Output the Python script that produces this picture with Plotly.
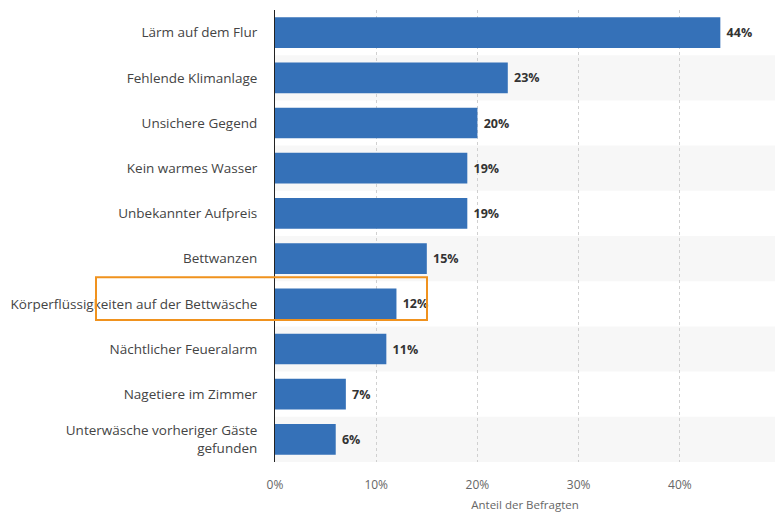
import plotly.graph_objects as go

categories = [
    "Lärm auf dem Flur",
    "Fehlende Klimanlage",
    "Unsichere Gegend",
    "Kein warmes Wasser",
    "Unbekannter Aufpreis",
    "Bettwanzen",
    "Körperflüssigkeiten auf der Bettwäsche",
    "Nächtlicher Feueralarm",
    "Nagetiere im Zimmer",
    "Unterwäsche vorheriger Gäste<br>gefunden",
]
values = [44, 23, 20, 19, 19, 15, 12, 11, 7, 6]
x_ticks = [0, 10, 20, 30, 40]
x_tick_labels = ["0%", "10%", "20%", "30%", "40%"]

FONT = "Open Sans"

fig = go.Figure(
    go.Bar(
        x=values,
        y=categories,
        orientation="h",
        marker=dict(color="#3571b8", line=dict(width=0)),
        width=0.68,
        text=[f"<b>\u00a0{v}%</b>" for v in values],
        textposition="outside",
        textfont=dict(family=FONT, size=12.5, color="#333333"),
        cliponaxis=False,
    )
)

shapes = []
for i in range(len(categories)):
    if i % 2 == 1:
        shapes.append(dict(
            type="rect", xref="paper", yref="y",
            x0=0, x1=1, y0=i - 0.5, y1=i + 0.5,
            fillcolor="#f7f7f7", line=dict(width=0), layer="below",
        ))
shapes.append(dict(
    type="rect", xref="paper", yref="paper",
    x0=-0.358, x1=0.304, y0=0.314, y1=0.409,
    line=dict(color="#f0921e", width=2), fillcolor="rgba(0,0,0,0)", layer="above",
))

fig.update_layout(
    width=775, height=514,
    margin=dict(l=275, r=0, t=10, b=52),
    paper_bgcolor="white", plot_bgcolor="white",
    showlegend=False,
    bargap=0.32,
    shapes=shapes,
    font=dict(family=FONT, color="#333333"),
    xaxis=dict(
        range=[0, 49.4],
        tickvals=x_ticks, ticktext=x_tick_labels,
        showgrid=True, gridcolor="#d0d0d0", griddash="dot", gridwidth=1,
        zeroline=False, showline=False,
        tickfont=dict(family=FONT, size=12, color="#666666"),
        ticklabelstandoff=14,
        title=dict(text="Anteil der Befragten", font=dict(family=FONT, size=11.5, color="#666666"), standoff=8),
    ),
    yaxis=dict(
        autorange="reversed",
        showline=True, linecolor="#222222", linewidth=1,
        showgrid=False, zeroline=False,
        tickfont=dict(family=FONT, size=13.5, color="#444444"),
        ticks="", ticklabelstandoff=14,
    ),
)

fig.write_html("out.html")
